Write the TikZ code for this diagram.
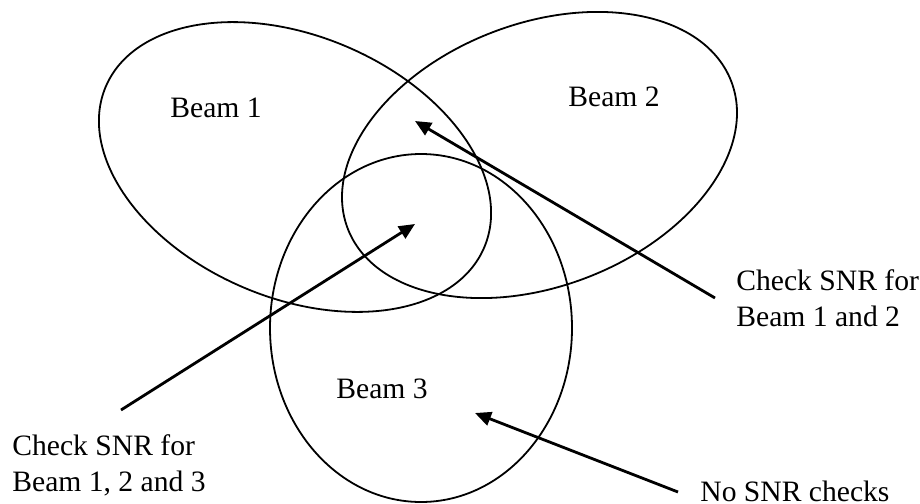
\documentclass[tikz,border=0pt]{standalone}
\usepackage{fontspec}
\setmainfont{Liberation Serif}
\usetikzlibrary{arrows.meta}
\begin{document}
\begin{tikzpicture}[x=0.5pt,y=-0.5pt,
  beam/.style={line width=0.9pt},
  pointer/.style={line width=1.4pt,-{Triangle[length=8pt,width=7pt]}},
  lbl/.style={font=\fontsize{14.8pt}{18pt}\selectfont,inner sep=0pt,anchor=base west,align=left}]
\useasboundingbox (0,0) rectangle (920,503);
% beams
\draw[beam,rotate around={-23:(295,167)}] (295,167) ellipse [x radius=102.8pt,y radius=65.5pt];
\draw[beam,rotate around={21:(539.5,155)}] (539.5,155) ellipse [x radius=102.7pt,y radius=65.7pt];
\draw[beam] (421,328) ellipse [x radius=75.5pt,y radius=87pt];
% labels
\node[lbl] (b1) at (170,117) {Beam 1};
\node[lbl] (b2) at (568,106) {Beam 2};
\node[lbl] (b3) at (336,398) {Beam 3};
\node[lbl] (l123) at (12,491) {Check SNR for\\Beam 1, 2 and 3};
\node[lbl] (l12) at (736,326) {Check SNR for\\Beam 1 and 2};
\node[lbl] (lno) at (700,501) {No SNR checks};
% arrow ends
\coordinate (s12) at (715,298);
\coordinate (t12) at (415,121);
\coordinate (s123) at (121,410);
\coordinate (t123) at (415,224);
\coordinate (sno) at (678,492);
\coordinate (tno) at (475,413);
\draw[pointer] (s12) -- (t12);
\draw[pointer] (s123) -- (t123);
\draw[pointer] (sno) -- (tno);
\end{tikzpicture}
\end{document}
